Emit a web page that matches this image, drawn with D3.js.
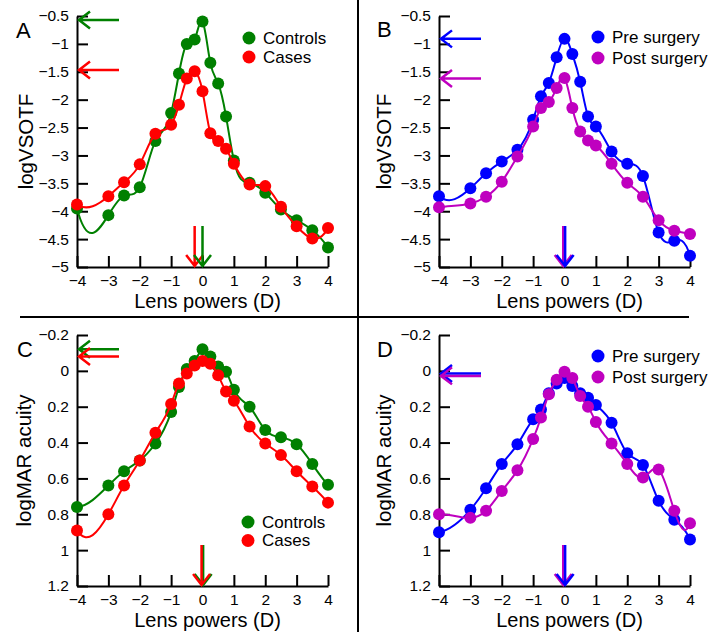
<!DOCTYPE html>
<html><head><meta charset="utf-8">
<script src="https://cdn.jsdelivr.net/npm/d3@7"></script>
<style>
html,body{margin:0;padding:0;background:#fff;}
svg{display:block;font-family:"Liberation Sans",Arial,sans-serif;}
</style></head>
<body>
<svg id="chart" width="713" height="632"></svg>
<script>
// ---------- data ----------
const lensPowers = [-4,-3,-2.5,-2,-1.5,-1,-0.75,-0.5,-0.25,0,0.25,0.5,0.75,1,1.5,2,2.5,3,3.5,4];
const xTicks = [-4,-3,-2,-1,0,1,2,3,4];
const vsotfTicks = [-5,-4.5,-4,-3.5,-3,-2.5,-2,-1.5,-1,-0.5];
const marTicks = [-0.2,0,0.2,0.4,0.6,0.8,1,1.2];

const aControls = [-3.95,-4.07,-3.72,-3.57,-2.74,-2.24,-1.53,-1.00,-0.92,-0.60,-1.34,-1.71,-2.30,-3.09,-3.49,-3.67,-3.97,-4.16,-4.34,-4.65];
const aCases    = [-3.88,-3.73,-3.48,-3.16,-2.61,-2.45,-2.09,-1.62,-1.49,-1.85,-2.60,-2.74,-2.88,-3.15,-3.52,-3.55,-3.92,-4.27,-4.49,-4.30];
const bPre      = [-3.73,-3.59,-3.32,-3.11,-2.90,-2.36,-1.94,-1.70,-1.24,-0.91,-1.18,-1.68,-2.30,-2.48,-2.93,-3.15,-3.37,-4.38,-4.53,-4.80];
const bPost     = [-3.93,-3.86,-3.74,-3.47,-3.02,-2.48,-2.15,-2.04,-1.79,-1.61,-2.15,-2.57,-2.73,-2.82,-3.15,-3.49,-3.74,-4.16,-4.35,-4.41];
const cControls = [0.76,0.64,0.56,0.50,0.405,0.23,0.09,-0.01,-0.055,-0.12,-0.08,-0.025,0.005,0.105,0.20,0.33,0.37,0.41,0.52,0.635];
const cCases    = [0.89,0.80,0.64,0.50,0.345,0.185,0.07,0.015,-0.03,-0.055,-0.04,0.025,0.115,0.167,0.31,0.405,0.47,0.56,0.645,0.735];
const dPre      = [0.90,0.775,0.655,0.52,0.41,0.27,0.215,0.125,0.07,0.04,0.085,0.125,0.15,0.19,0.29,0.46,0.525,0.725,0.83,0.94];
const dPost     = [0.80,0.82,0.78,0.67,0.555,0.38,0.26,0.13,0.05,0.005,0.04,0.14,0.20,0.285,0.405,0.52,0.595,0.55,0.78,0.85];

// arrows: horizontal (y value of peak) and vertical (x value of peak)
const aHArrows = [-0.57,-1.47];   // controls, cases
const aVArrows = [0,-0.25];       // controls, cases
const bHArrows = [-0.91,-1.62];   // pre, post
const bVArrows = [0.02,-0.04];
const cHArrows = [-0.12,-0.08];
const cVArrows = [0.02,-0.03];
const dHArrows = [0.015,0.028];
const dVArrows = [0.02,-0.04];

const groupNames = ["Controls","Cases"];
const surgeryNames = ["Pre surgery","Post surgery"];
const GREEN="#008000", RED="#ff0000", BLUE="#0000ff", MAG="#bf00bf";

// ---------- cubic spline in x (not-a-knot) as a d3 curve ----------
function solveSpline(xs, ys){
  const n = xs.length, h=[], s=[];
  for(let i=0;i<n-1;i++){ h.push(xs[i+1]-xs[i]); s.push((ys[i+1]-ys[i])/h[i]); }
  const A = Array.from({length:n},()=>new Array(n).fill(0)), b=new Array(n).fill(0);
  A[0][0]=h[1]; A[0][1]=-(h[0]+h[1]); A[0][2]=h[0];
  for(let i=1;i<n-1;i++){ A[i][i-1]=h[i-1]; A[i][i]=2*(h[i-1]+h[i]); A[i][i+1]=h[i]; b[i]=6*(s[i]-s[i-1]); }
  A[n-1][n-3]=h[n-2]; A[n-1][n-2]=-(h[n-3]+h[n-2]); A[n-1][n-1]=h[n-3];
  for(let c=0;c<n;c++){
    let p=c; for(let r=c+1;r<n;r++) if(Math.abs(A[r][c])>Math.abs(A[p][c])) p=r;
    [A[c],A[p]]=[A[p],A[c]]; [b[c],b[p]]=[b[p],b[c]];
    for(let r=c+1;r<n;r++){ const f=A[r][c]/A[c][c]; if(!f) continue; for(let k=c;k<n;k++) A[r][k]-=f*A[c][k]; b[r]-=f*b[c]; }
  }
  const M=new Array(n).fill(0);
  for(let r=n-1;r>=0;r--){ let v=b[r]; for(let k=r+1;k<n;k++) v-=A[r][k]*M[k]; M[r]=v/A[r][r]; }
  return M;
}
function curveSplineX(context){
  let xs, ys;
  return {
    areaStart(){}, areaEnd(){},
    lineStart(){ xs=[]; ys=[]; },
    point(x,y){ xs.push(+x); ys.push(+y); },
    lineEnd(){
      const n=xs.length; if(!n) return;
      context.moveTo(xs[0],ys[0]);
      if(n<4){ for(let i=1;i<n;i++) context.lineTo(xs[i],ys[i]); return; }
      const M=solveSpline(xs,ys);
      for(let i=0;i<n-1;i++){
        const h=xs[i+1]-xs[i], sl=(ys[i+1]-ys[i])/h;
        const d0=sl-h*(2*M[i]+M[i+1])/6, d1=sl+h*(M[i]+2*M[i+1])/6;
        context.bezierCurveTo(xs[i]+h/3, ys[i]+d0*h/3, xs[i+1]-h/3, ys[i+1]-d1*h/3, xs[i+1], ys[i+1]);
      }
    }
  };
}

// ---------- drawing ----------
const svg = d3.select("#chart");
const fmt = d => (d<0?"\u2212":"") + Math.abs(d);

// divider lines
svg.append("line").attr("x1",358).attr("x2",358).attr("y1",0).attr("y2",632).attr("stroke","#000").attr("stroke-width",2);
svg.append("line").attr("x1",20).attr("x2",689).attr("y1",317).attr("y2",317).attr("stroke","#000").attr("stroke-width",2);

function panel(cfg){
  const x = d3.scaleLinear().domain([-4,4]).range([cfg.x0,cfg.x1]);
  const y = d3.scaleLinear().domain(cfg.yDomain).range([cfg.y1,cfg.y0]);
  const g = svg.append("g");

  const ax = g.append("g").attr("transform",`translate(0,${cfg.y1})`)
    .call(d3.axisBottom(x).tickValues(xTicks).tickFormat(fmt).tickSizeInner(-11).tickSizeOuter(0).tickPadding(8));
  const ay = g.append("g").attr("transform",`translate(${cfg.x0},0)`)
    .call(d3.axisLeft(y).tickValues(cfg.yTicks).tickFormat(fmt).tickSizeInner(-11).tickSizeOuter(0).tickPadding(8));
  [ax,ay].forEach(a=>{
    a.selectAll("path.domain").attr("stroke","#000").attr("stroke-width",2);
    a.selectAll(".tick line").attr("stroke","#000").attr("stroke-width",2);
    a.selectAll("text").attr("fill","#000").style("font-size","15.5px").style("font-family","'Liberation Sans',Arial,sans-serif");
  });

  // axis titles
  g.append("text").attr("x",(cfg.x0+cfg.x1)/2+5).attr("y",cfg.y1+41).attr("text-anchor","middle")
    .style("font-size","20px").text("Lens powers (D)");
  g.append("text").attr("transform",`translate(${cfg.titleX},${(cfg.y0+cfg.y1)/2}) rotate(-90)`)
    .attr("text-anchor","middle").style("font-size","20.5px").text(cfg.yTitle);
  // panel letter
  g.append("text").attr("x",cfg.labelX).attr("y",cfg.labelY).style("font-size","22px").text(cfg.label);

  // arrows
  const L=40, hl=11, hw=8.5;
  cfg.series.forEach((s,i)=>{
    const yy=y(cfg.hArrows[i]), tipX=cfg.x0+2;
    g.append("path").attr("fill","none").attr("stroke",s.color).attr("stroke-width",2.5)
      .attr("d",`M${tipX+L},${yy}L${tipX},${yy}M${tipX+hl},${yy-hw}L${tipX},${yy}L${tipX+hl},${yy+hw}`);
  });
  cfg.vOrder.forEach(i=>{
    const s=cfg.series[i], xx=x(cfg.vArrows[i]), tipY=cfg.y1-1;
    g.append("path").attr("fill","none").attr("stroke",s.color).attr("stroke-width",2.5)
      .attr("d",`M${xx},${tipY-L}L${xx},${tipY}M${xx-hw},${tipY-hl}L${xx},${tipY}L${xx+hw},${tipY-hl}`);
  });

  // series
  const line = d3.line().x((d,i)=>x(lensPowers[i])).y(d=>y(d)).curve(curveSplineX);
  cfg.series.forEach(s=>{
    g.append("path").attr("d",line(s.values)).attr("fill","none").attr("stroke",s.color).attr("stroke-width",2);
    g.selectAll(null).data(s.values).join("circle")
      .attr("cx",(d,i)=>x(lensPowers[i])).attr("cy",d=>y(d)).attr("r",6).attr("fill",s.color);
  });

  // legend
  cfg.series.forEach((s,i)=>{
    const ly=cfg.legY+i*cfg.legStep;
    g.append("circle").attr("cx",cfg.legX).attr("cy",ly).attr("r",6.5).attr("fill",s.color);
    g.append("text").attr("x",cfg.legX+14).attr("y",ly).attr("dy","0.35em").style("font-size","17px").text(s.name);
  });
}

panel({x0:77,x1:328,y0:16,y1:267,yDomain:[-5,-0.5],yTicks:vsotfTicks,yTitle:"logVSOTF",titleX:33,label:"A",labelX:16,labelY:38,
  series:[{name:groupNames[0],values:aControls,color:GREEN},{name:groupNames[1],values:aCases,color:RED}],
  hArrows:aHArrows,vArrows:aVArrows,vOrder:[1,0],legX:249,legY:38,legStep:19});
panel({x0:439,x1:690,y0:16,y1:267,yDomain:[-5,-0.5],yTicks:vsotfTicks,yTitle:"logVSOTF",titleX:391,label:"B",labelX:377,labelY:37,
  series:[{name:surgeryNames[0],values:bPre,color:BLUE},{name:surgeryNames[1],values:bPost,color:MAG}],
  hArrows:bHArrows,vArrows:bVArrows,vOrder:[1,0],legX:598,legY:37,legStep:21});
panel({x0:77,x1:328,y0:335,y1:586,yDomain:[1.2,-0.2],yTicks:marTicks,yTitle:"logMAR acuity",titleX:31,label:"C",labelX:17,labelY:357,
  series:[{name:groupNames[0],values:cControls,color:GREEN},{name:groupNames[1],values:cCases,color:RED}],
  hArrows:cHArrows,vArrows:cVArrows,vOrder:[0,1],legX:248,legY:522,legStep:18.5});
panel({x0:439,x1:690,y0:335,y1:586,yDomain:[1.2,-0.2],yTicks:marTicks,yTitle:"logMAR acuity",titleX:391,label:"D",labelX:377,labelY:357,
  series:[{name:surgeryNames[0],values:dPre,color:BLUE},{name:surgeryNames[1],values:dPost,color:MAG}],
  hArrows:dHArrows,vArrows:dVArrows,vOrder:[1,0],legX:598,legY:356,legStep:21});
</script>
</body></html>
